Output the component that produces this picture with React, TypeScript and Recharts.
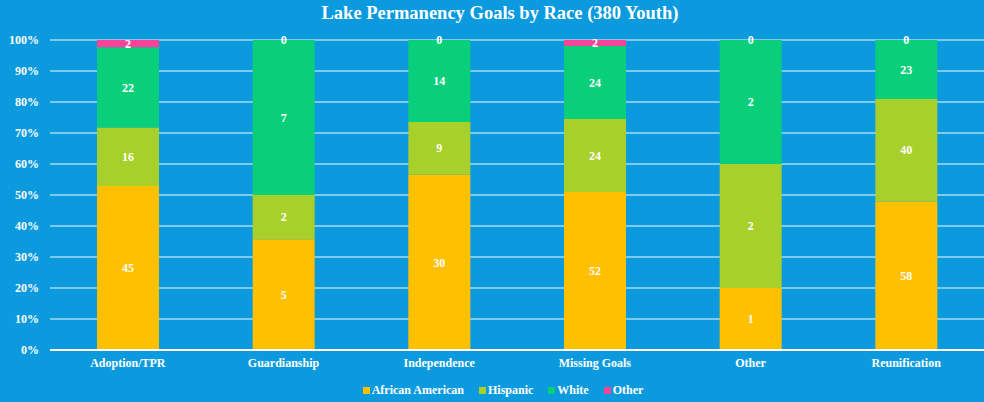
import { Bar, BarChart, CartesianGrid, LabelList, Legend, XAxis, YAxis } from "recharts";

const GOALS = ["Adoption/TPR", "Guardianship", "Independence", "Missing Goals", "Other", "Reunification"];
const AFRICAN_AMERICAN = [45, 5, 30, 52, 1, 58];
const HISPANIC = [16, 2, 9, 24, 2, 40];
const WHITE = [22, 7, 14, 24, 2, 23];
const OTHER = [2, 0, 0, 2, 0, 0];
const PCT_TICKS = [0, 0.1, 0.2, 0.3, 0.4, 0.5, 0.6, 0.7, 0.8, 0.9, 1];

const SERIES = [
  { key: "aa", name: "African American", color: "#ffc000" },
  { key: "hisp", name: "Hispanic", color: "#a8d02a" },
  { key: "white", name: "White", color: "#09cf7a" },
  { key: "other", name: "Other", color: "#f74499" },
];

const data = GOALS.map((goal, i) => ({
  goal,
  aa: AFRICAN_AMERICAN[i],
  hisp: HISPANIC[i],
  white: WHITE[i],
  other: OTHER[i],
}));

const FONT = "'Liberation Serif', 'Times New Roman', serif";
const textStyle = { fill: "#ffffff", fontSize: 12, fontWeight: 700, fontFamily: FONT };

// zero "Other" values have no bar, so draw their label at the top of the White segment
function ZeroOtherLabel(props: any) {
  const { x, y, width, index } = props;
  if (OTHER[index] !== 0) return null;
  return (
    <text x={x + width / 2} y={y} textAnchor="middle" dominantBaseline="central" {...textStyle}>
      0
    </text>
  );
}

function RaceLegend() {
  return (
    <div
      style={{
        display: "flex",
        justifyContent: "center",
        paddingLeft: 22,
        boxSizing: "border-box",
        width: 984,
        color: "#fff",
        fontWeight: 700,
        fontSize: 12,
        fontFamily: FONT,
        lineHeight: "20px",
      }}
    >
      {SERIES.map((s, i) => (
        <span key={s.key} style={{ display: "flex", alignItems: "center", marginLeft: i ? 15 : 0 }}>
          <span style={{ width: 7, height: 7, background: s.color, marginRight: 2 }} />
          {s.name}
        </span>
      ))}
    </div>
  );
}

export default function App() {
  return (
    <div
      style={{
        position: "absolute",
        top: 0,
        left: 0,
        width: 984,
        height: 402,
        background: "#0b9ade",
        fontFamily: FONT,
      }}
    >
      <div
        style={{
          position: "absolute",
          top: 3,
          left: 8,
          width: 984,
          textAlign: "center",
          color: "#fff",
          fontWeight: 700,
          fontSize: 18.5,
        }}
      >
        Lake Permanency Goals by Race (380 Youth)
      </div>
      <BarChart
        width={984}
        height={402}
        data={data}
        stackOffset="expand"
        barSize={62}
        margin={{ top: 40, right: 0, left: 0, bottom: 2 }}
      >
        <CartesianGrid vertical={false} stroke="#a6d8f3" strokeWidth={1.5} />
        <XAxis
          dataKey="goal"
          axisLine={{ stroke: "#ffffff", strokeWidth: 2 }}
          tickLine={false}
          tick={textStyle}
          height={30}
        />
        <YAxis
          type="number"
          domain={[0, 1]}
          ticks={PCT_TICKS}
          tickFormatter={(v: number) => `${Math.round(v * 100)}%`}
          axisLine={false}
          tickLine={false}
          tickSize={0}
          tickMargin={11}
          tick={textStyle}
          width={50}
          interval={0}
        />
        <Legend height={20} content={<RaceLegend />} />
        {SERIES.map((s) => (
          <Bar key={s.key} dataKey={s.key} name={s.name} stackId="a" fill={s.color} isAnimationActive={false}>
            <LabelList
              dataKey={s.key}
              position="center"
              style={textStyle}
              formatter={(v: any) => (v === 0 ? "" : v)}
            />
            {s.key === "white" && <LabelList dataKey="white" content={ZeroOtherLabel} />}
          </Bar>
        ))}
      </BarChart>
    </div>
  );
}
